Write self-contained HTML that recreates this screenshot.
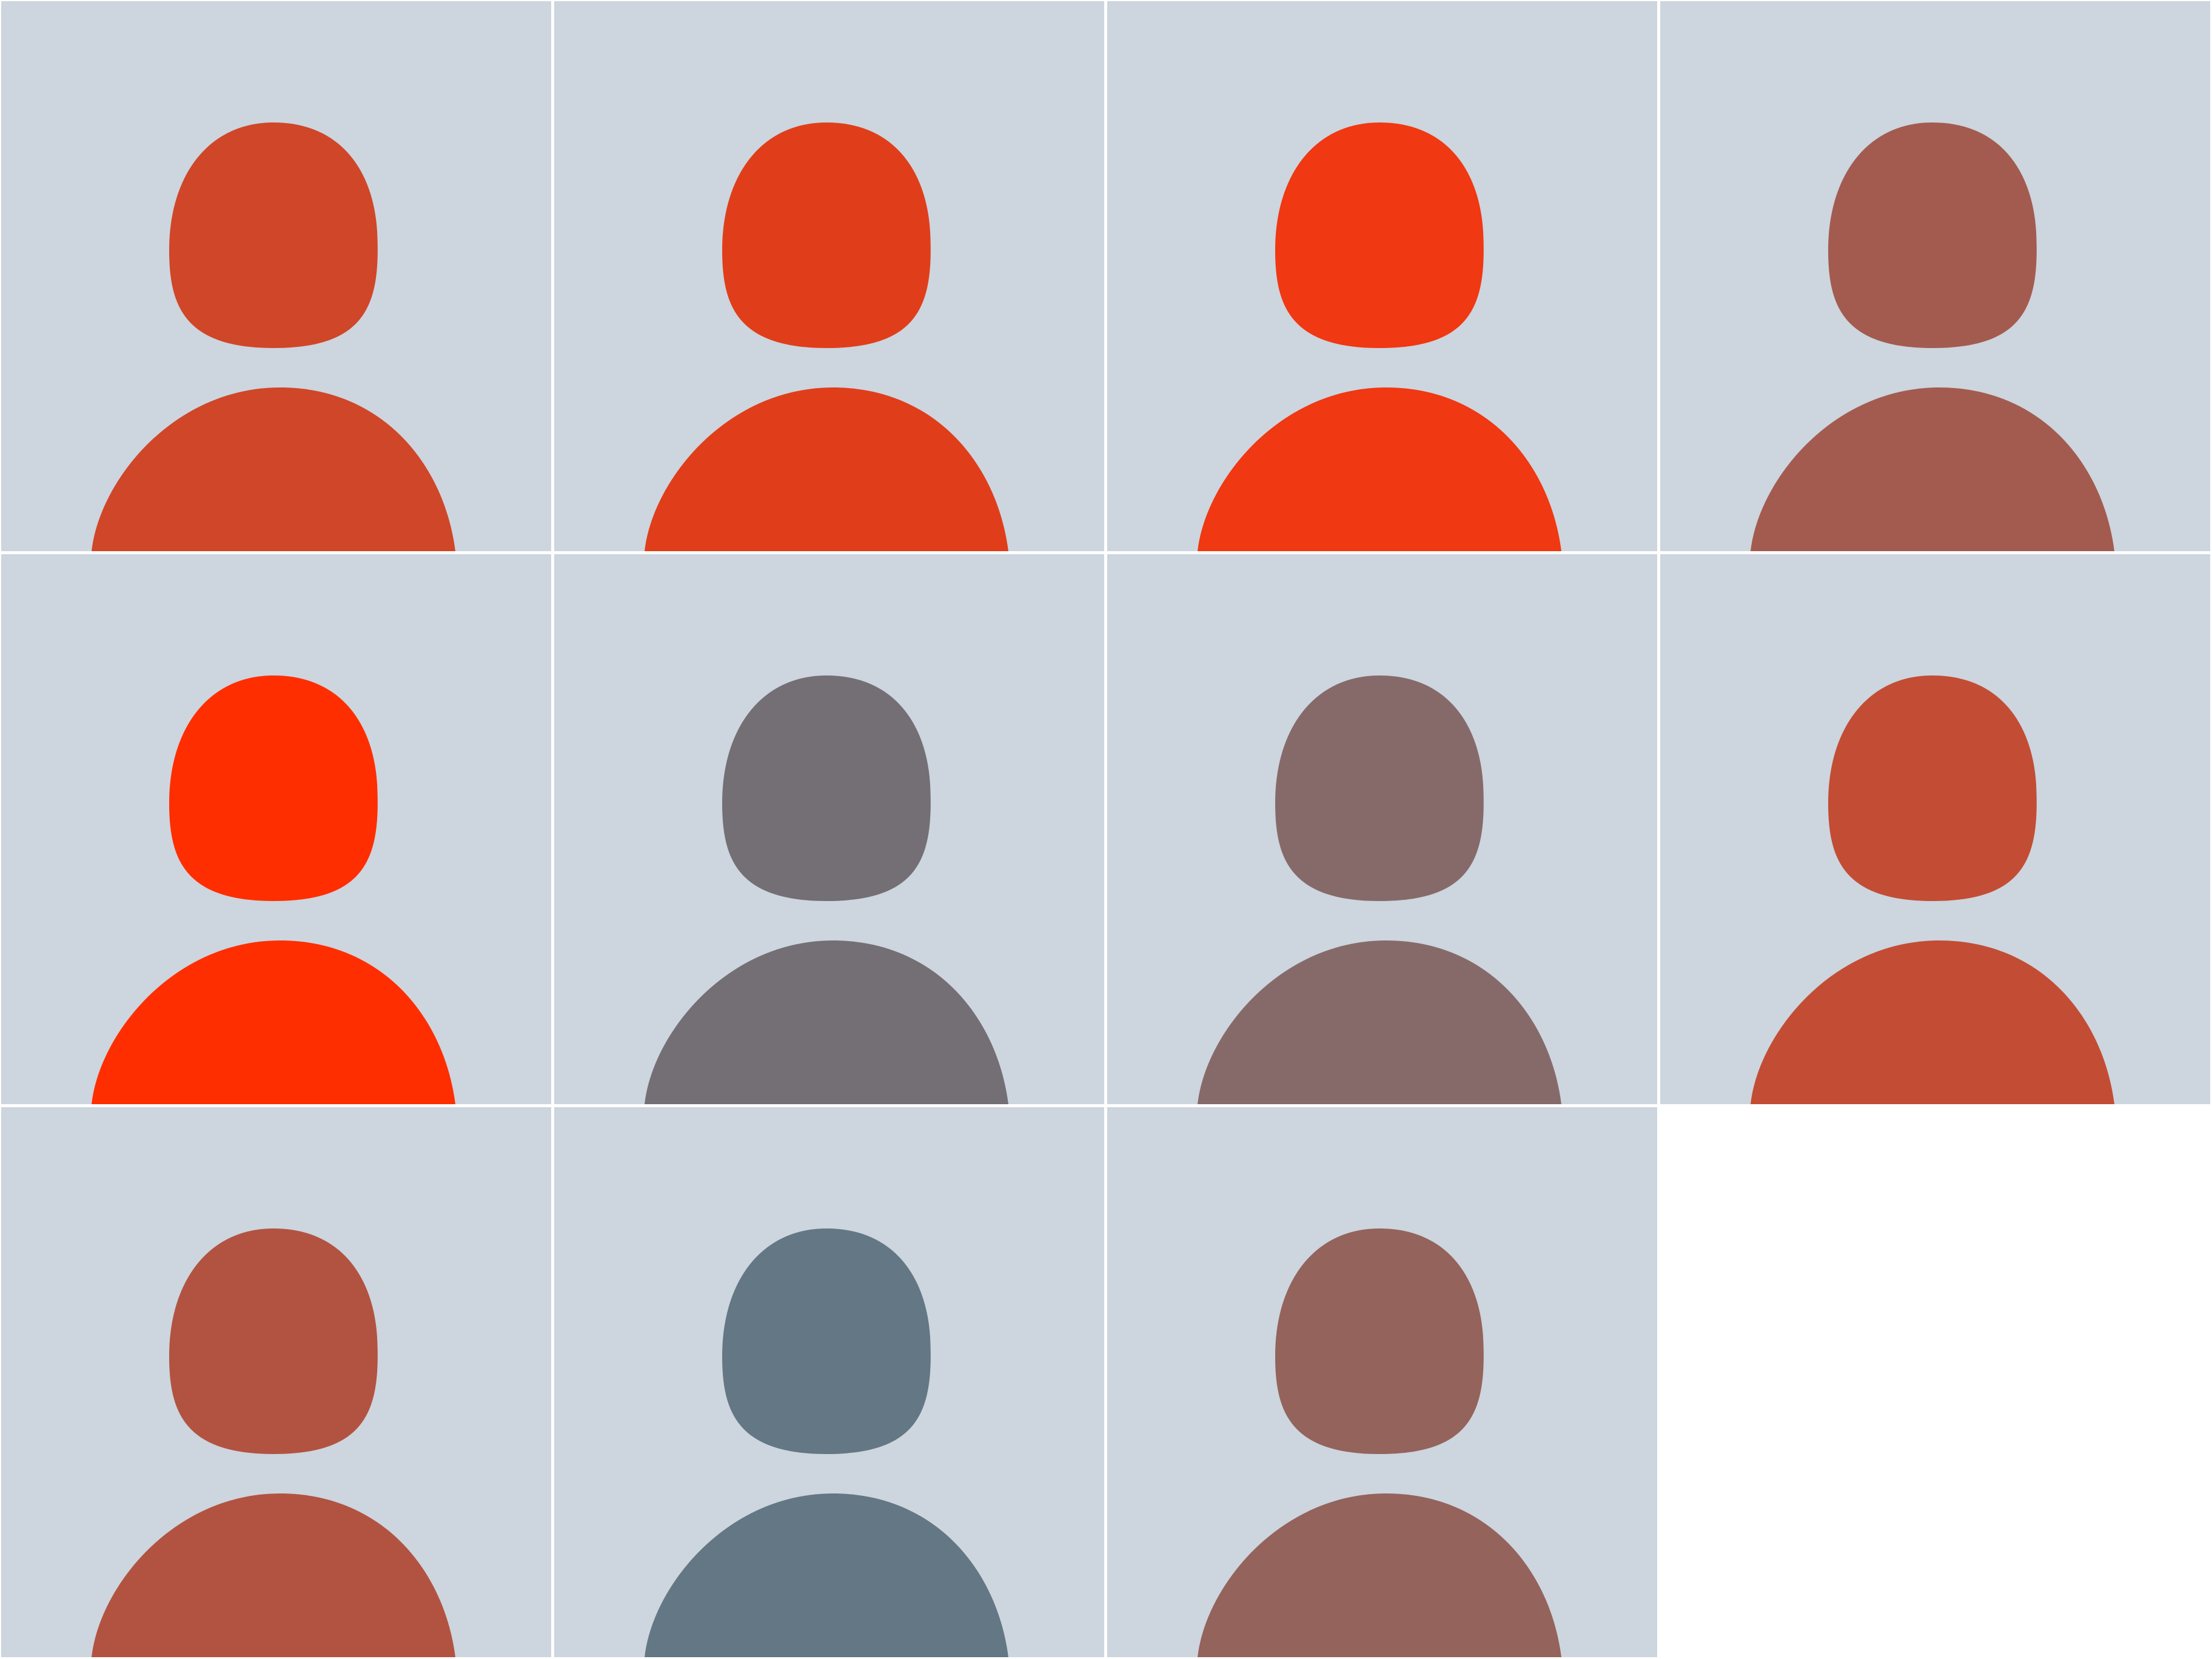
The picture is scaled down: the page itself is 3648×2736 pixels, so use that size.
<!DOCTYPE html>
<html><head><meta charset="utf-8"><style>html,body{margin:0;padding:0;background:#fff}svg{display:block}</style></head>
<body>
<svg id="chart" width="3648" height="2736" viewBox="0 0 3648 2736" xmlns="http://www.w3.org/2000/svg"></svg>
<script>
const tileColors = ["#d04628","#e03e1a","#f03812","#a35b50","#ff2e00","#736f75","#866a6a","#c24d34","#b25341","#637784","#94635c"];
const tileLabels = ["avatar-1","avatar-2","avatar-3","avatar-4","avatar-5","avatar-6","avatar-7","avatar-8","avatar-9","avatar-10","avatar-11"];
const ns="http://www.w3.org/2000/svg";
const svg=document.getElementById('chart');
const pitch=912, size=907, cols=4;
const headD="M449,200 C560,200 614,280 620,380 C626,500 602,572 449,572 C300,572 277,500 277,410 C277,290 340,200 449,200 Z";
const bodyD="M149,907 C162,790 285,637 460,637 C625,637 730,760 749,907 Z";
tileColors.forEach((c,i)=>{
  const g=document.createElementNS(ns,'g');
  
  
  g.setAttribute('transform',`translate(${(i%cols)*pitch+2},${Math.floor(i/cols)*pitch+2})`);
  const r=document.createElementNS(ns,'rect');
  
  
  r.setAttribute('width',size);r.setAttribute('height',size);r.setAttribute('fill','#cdd5de');
  g.appendChild(r);
  const h=document.createElementNS(ns,'path');
  
  
  h.setAttribute('d',headD);h.setAttribute('fill',c);
  g.appendChild(h);
  const b=document.createElementNS(ns,'path');
  
  
  b.setAttribute('d',bodyD);b.setAttribute('fill',c);
  g.appendChild(b);
  svg.appendChild(g);
});
</script>
</body></html>
